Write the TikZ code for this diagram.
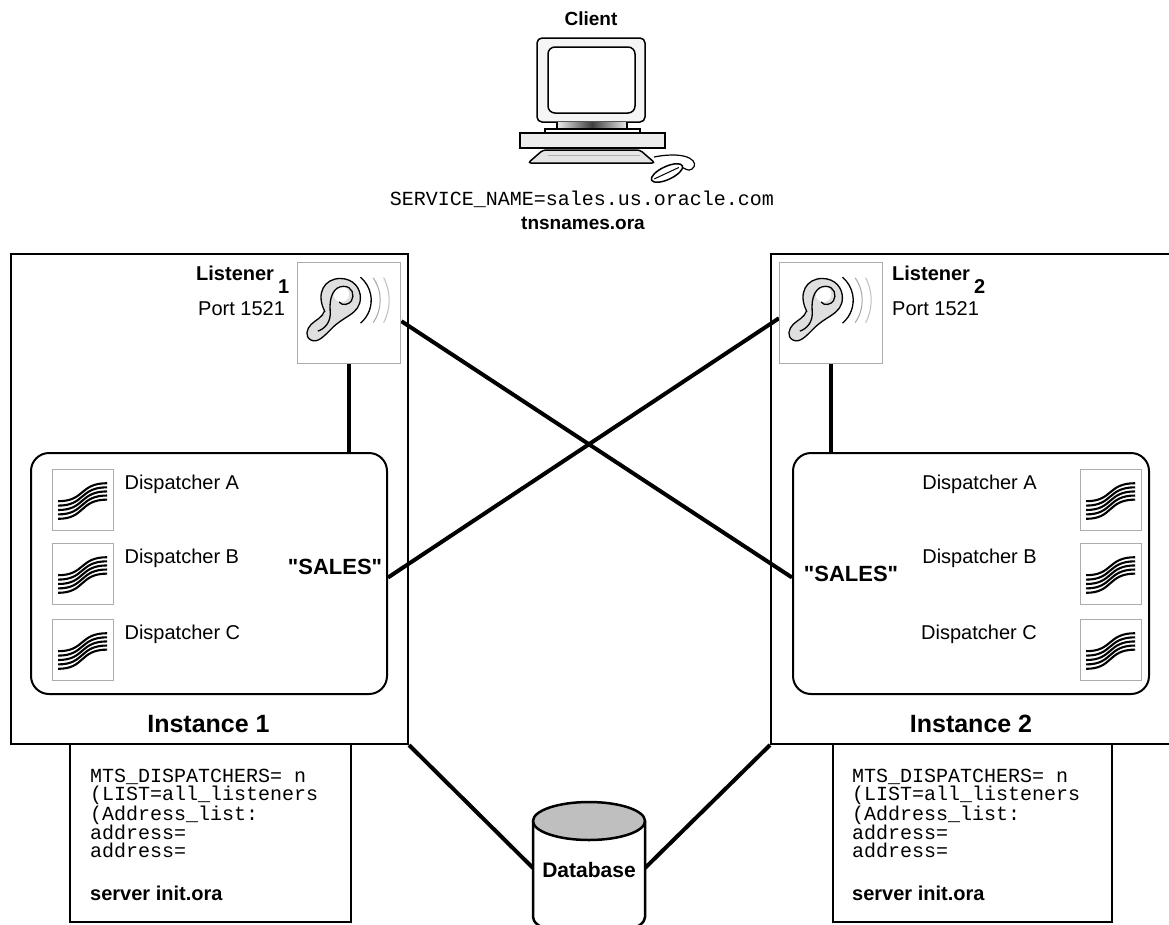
\documentclass[tikz,border=0pt]{standalone}
\usepackage{fontspec}
\setmainfont{Liberation Sans}
\setmonofont{Liberation Mono}
\usetikzlibrary{positioning}

\tikzset{
  % wavy dispatcher symbol
  waves/.pic={
    \foreach \i in {0,...,4}
      \draw[line width=2.1pt] (-25,-1-4.4*\i) .. controls (2,-1-4.4*\i) and (-4,17-4.1*\i) .. (24,17-4.1*\i);
  },
  % listener ear with sound waves
  ear/.pic={
    \begin{scope}[scale=1.12]
    \draw[line width=1.3pt, fill=gray!25] (-22,2) .. controls (-30,18) and (-22,31) .. (-8,31)
      .. controls (4,31) and (10,22) .. (10,14)
      .. controls (10,6) and (6,2) .. (0,-2)
      .. controls (-6,-6) and (-10,-8) .. (-16,-14)
      .. controls (-22,-20) and (-28,-27) .. (-34,-24)
      .. controls (-40,-21) and (-38,-14) .. (-34,-10)
      .. controls (-30,-6) and (-24,-4) .. cycle;
    \fill[white] (-7,17) circle (7);
    \draw[line width=1.3pt] (-28,-16) .. controls (-22,-14) and (-16,-8) .. (-17,2)
      .. controls (-18,14) and (-14,24) .. (-5,24)
      .. controls (3,24) and (5,16) .. (2,11)
      .. controls (0,8) and (-6,6) .. (-9,10);
    \end{scope}
    \draw[line width=1.3pt] ([shift={(-50:30)}]-8,13) arc[start angle=-50, end angle=50, radius=30];
    \draw[line width=1pt, gray!70] ([shift={(-35:39)}]-8,13) arc[start angle=-35, end angle=35, radius=39];
    \draw[line width=1pt, gray!50] ([shift={(-28:48)}]-8,13) arc[start angle=-28, end angle=28, radius=48];
  },
}

\begin{document}
\begin{tikzpicture}[x=1pt,y=1pt,
    every node/.style={inner sep=0pt},
    lbl/.style={font=\fontsize{20}{24}\selectfont},
    bold/.style={font=\bfseries\fontsize{20}{24}\selectfont},
    ttl/.style={font=\bfseries\fontsize{25}{30}\selectfont},
    code/.style={font=\ttfamily\fontsize{20}{18}\selectfont, align=left},
    frame/.style={draw, line width=2pt, anchor=north west},
    group/.style={frame, rounded corners=18pt, minimum width=356pt, minimum height=241pt},
    iconbox/.style={draw=gray!65, line width=1.4pt, fill=white, anchor=north west},
    wavebox/.style={iconbox, minimum size=61pt},
    earbox/.style={iconbox, minimum width=103pt, minimum height=101pt},
    conn/.style={line width=4pt}]
  \path[use as bounding box, clip] (0,0) rectangle (1169,-924);

  % client workstation
  \node[font=\bfseries\fontsize{19}{23}\selectfont, anchor=base] (client) at (591,-25) {Client};
  \draw[line width=1.5pt, fill=gray!8, rounded corners=5pt] (537,-38) rectangle (645,-122);
  \draw[line width=1.5pt, fill=white, rounded corners=7pt] (548,-47) rectangle (635,-113);
  \shade[left color=gray!15, right color=gray!15, middle color=black!75] (557,-122) rectangle (627,-129);
  \draw[line width=1.2pt] (557,-122) -- (557,-129) (627,-122) -- (627,-129);
  \draw[line width=1.2pt, fill=white] (545,-129) rectangle (640,-133);
  \draw[line width=1.5pt, fill=gray!15] (520,-133) rectangle (665,-148);
  \draw[line width=1.5pt, fill=gray!20, rounded corners=3pt] (543,-150) -- (640,-150) -- (655,-163) -- (528,-163) -- cycle;
  \draw[gray!60, line width=1pt] (548,-155) -- (640,-155);
  \draw[line width=1.2pt] (654,-157) .. controls (690,-150) and (700,-163) .. (692,-169) .. controls (688,-172) and (685,-168) .. (681,-167);
  \draw[line width=1.5pt, fill=white, rotate around={25:(667,-173)}] (667,-173) ellipse [x radius=17, y radius=6.5];
  \draw[line width=1pt, rotate around={25:(667,-173)}] (653,-173) -- (680,-173);

  \node[font=\ttfamily\fontsize{20}{24}\selectfont, anchor=base] (svc) at (582,-205) {SERVICE\_NAME=sales.us.oracle.com};
  \node[font=\bfseries\fontsize{19}{23}\selectfont, anchor=base] (tns) at (583,-229) {tnsnames.ora};

  % instances
  \node[frame, minimum width=397pt, minimum height=490pt] (inst1) at (10,-253) {};
  \node[frame, minimum width=402pt, minimum height=490pt] (inst2) at (770,-253) {};
  \node[ttl, anchor=base] (ilbl1) at (208.5,-732) {Instance 1};
  \node[ttl, anchor=base] (ilbl2) at (971,-732) {Instance 2};

  % dispatcher groups
  \node[group] (grp1) at (30,-452) {};
  \node[group] (grp2) at (792,-452) {};

  % listeners
  \node[earbox] (lis1) at (297,-262) {};
  \node[earbox] (lis2) at (779,-262) {};

  \draw[conn] (lis1.south) -- (lis1.south |- grp1.north);
  \draw[conn] (lis2.south) -- (lis2.south |- grp2.north);
  \draw[conn] ([yshift=-8pt]lis1.east) -- ([yshift=-4pt]grp2.west);
  \draw[conn] ([yshift=-5pt]lis2.west) -- ([yshift=-4pt]grp1.east);

  \node[earbox] at (lis1.north west) {};
  \node[earbox] at (lis2.north west) {};
  \pic at (lis1.center) {ear};
  \pic at (lis2.center) {ear};

  \node[bold, anchor=base west] (lname1) at (196,-280) {Listener\hspace{4pt}\raisebox{-13pt}{1}};
  \node[lbl, anchor=base west] (lport1) at (198,-315) {Port 1521};
  \node[bold, anchor=base west] (lname2) at (892,-280) {Listener\hspace{4pt}\raisebox{-13pt}{2}};
  \node[lbl, anchor=base west] (lport2) at (892,-315) {Port 1521};

  % dispatchers
  \foreach \n/\y/\t in {a/469/A, b/543/B, c/619/C} {
    \node[wavebox] (d1\n) at (52,-\y) {};
    \pic at (d1\n.center) {waves};
    \node[lbl, below right=6pt and 10pt of d1\n.north east] (t1\n) {Dispatcher \t};
    \node[wavebox] (d2\n) at (1080,-\y) {};
    \pic at (d2\n.center) {waves};
    \node[lbl, below left=6pt and 43pt of d2\n.north west] (t2\n) {Dispatcher \t};
  }
  \node[font=\bfseries\fontsize{22}{26}\selectfont] (sales1) at (335,-567) {\textquotedbl SALES\textquotedbl};
  \node[font=\bfseries\fontsize{22}{26}\selectfont] (sales2) at (851,-574) {\textquotedbl SALES\textquotedbl};

  % init.ora parameter boxes
  \node[frame, minimum width=281pt, minimum height=178pt] (init1) at (69,-743) {};
  \node[frame, minimum width=279pt, minimum height=178pt] (init2) at (832,-743) {};
  \node[code, anchor=north west] (par1) at (90,-769) {MTS\_DISPATCHERS= n\\(LIST=all\_listeners\\(Address\_list:\\address=\\address=};
  \node[code, anchor=north west] (par2) at (852,-769) {MTS\_DISPATCHERS= n\\(LIST=all\_listeners\\(Address\_list:\\address=\\address=};
  \node[bold, anchor=base west] (srv1) at (90,-900) {server init.ora};
  \node[bold, anchor=base west] (srv2) at (852,-900) {server init.ora};

  % database
  \coordinate (db) at (589,-821);
  \coordinate (dbl) at (533,-868);
  \coordinate (dbr) at (645,-868);
  \draw[conn] (inst1.south east) -- (dbl);
  \draw[conn] (inst2.south west) -- (dbr);
  \draw[line width=2.5pt, fill=white] (533,-821) -- (533,-917) arc[start angle=180, end angle=360, x radius=56, y radius=19] -- (645,-821);
  \draw[line width=2.5pt, fill=black!25] (db) ellipse [x radius=56, y radius=19];
  \node[font=\bfseries\fontsize{21}{25}\selectfont] (dbtext) at (589,-870) {Database};
\end{tikzpicture}
\end{document}
